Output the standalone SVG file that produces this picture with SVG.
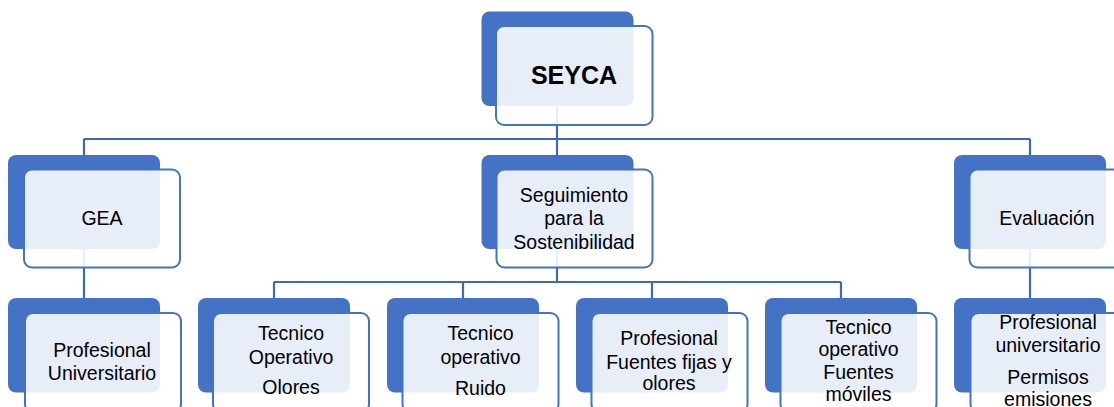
<svg xmlns="http://www.w3.org/2000/svg" width="1114" height="407" viewBox="0 0 1114 407">
<style>
.bk{fill:#4472C4;}
.fr{fill:#FFFFFF;fill-opacity:0.88;stroke:#4472C4;stroke-width:2;}
.ln{stroke:#4068B8;stroke-width:2.2;fill:none;}
text{font-family:"Liberation Sans",Arial,sans-serif;font-size:19.5px;fill:#000;text-anchor:middle;}
.big{font-size:25px;font-weight:bold;}
</style>
<rect width="1114" height="407" fill="#FFFFFF"/>
<g id="connectors">
<path class="ln" d="M557,100 V139 M84,139 H1030 M84,139 V160 M557,139 V160 M1030,139 V160"/>
<path class="ln" d="M84,240 V303 M1030,240 V303 M557,240 V282 M274,282 H841 M274,282 V303 M463,282 V303 M652,282 V303 M841,282 V303"/>
</g>
<g id="n-seyca">
<rect class="bk" x="481.5" y="11.5" width="152" height="94.5" rx="8"/>
<rect class="fr" x="496" y="26" width="156.5" height="99" rx="8"/>
<text class="big" x="574" y="83.5">SEYCA</text>
</g>
<g id="n-gea">
<rect class="bk" x="8" y="155" width="152" height="94" rx="8"/>
<rect class="fr" x="24" y="169.5" width="156" height="98" rx="8"/>
<text x="102" y="225">GEA</text>
</g>
<g id="n-seguimiento">
<rect class="bk" x="481.5" y="155" width="152" height="94" rx="8"/>
<rect class="fr" x="496.5" y="169.5" width="156" height="98" rx="8"/>
<text x="574" y="201.5">Seguimiento</text>
<text x="574" y="225">para la</text>
<text x="574" y="248.5">Sostenibilidad</text>
</g>
<g id="n-evaluacion">
<rect class="bk" x="954" y="155" width="152" height="94" rx="8"/>
<rect class="fr" x="969.5" y="169.5" width="156" height="98" rx="8"/>
<text x="1047" y="225">Evaluación</text>
</g>
<g id="n-prof-univ">
<rect class="bk" x="8" y="298" width="152" height="94.5" rx="8"/>
<rect class="fr" x="25" y="313" width="156" height="99" rx="8"/>
<text x="102" y="357">Profesional</text>
<text x="102" y="380">Universitario</text>
</g>
<g id="n-tec-olores">
<rect class="bk" x="198" y="298" width="152" height="94.5" rx="8"/>
<rect class="fr" x="213" y="313" width="156" height="99" rx="8"/>
<text x="291" y="340">Tecnico</text>
<text x="291" y="363.5">Operativo</text>
<text x="291" y="393.5">Olores</text>
</g>
<g id="n-tec-ruido">
<rect class="bk" x="387" y="298" width="152" height="94.5" rx="8"/>
<rect class="fr" x="402.5" y="313" width="156" height="99" rx="8"/>
<text x="480.5" y="340">Tecnico</text>
<text x="480.5" y="363.5">operativo</text>
<text x="480.5" y="395">Ruido</text>
</g>
<g id="n-prof-fuentes">
<rect class="bk" x="576" y="298" width="152" height="94.5" rx="8"/>
<rect class="fr" x="591.5" y="313" width="156" height="99" rx="8"/>
<text x="669" y="345">Profesional</text>
<text x="669" y="368.5">Fuentes fijas y</text>
<text x="669" y="390">olores</text>
</g>
<g id="n-tec-moviles">
<rect class="bk" x="765" y="298" width="152" height="94.5" rx="8"/>
<rect class="fr" x="780.5" y="313" width="156" height="99" rx="8"/>
<text x="858.5" y="333.5">Tecnico</text>
<text x="858.5" y="356">operativo</text>
<text x="858.5" y="378.5">Fuentes</text>
<text x="858.5" y="401">móviles</text>
</g>
<g id="n-prof-permisos">
<rect class="bk" x="954" y="298" width="152" height="94.5" rx="8"/>
<rect class="fr" x="970.5" y="313" width="156" height="99" rx="8"/>
<text x="1048" y="328.5">Profesional</text>
<text x="1048" y="352">universitario</text>
<text x="1048" y="383.5">Permisos</text>
<text x="1048" y="406">emisiones</text>
</g>
</svg>
